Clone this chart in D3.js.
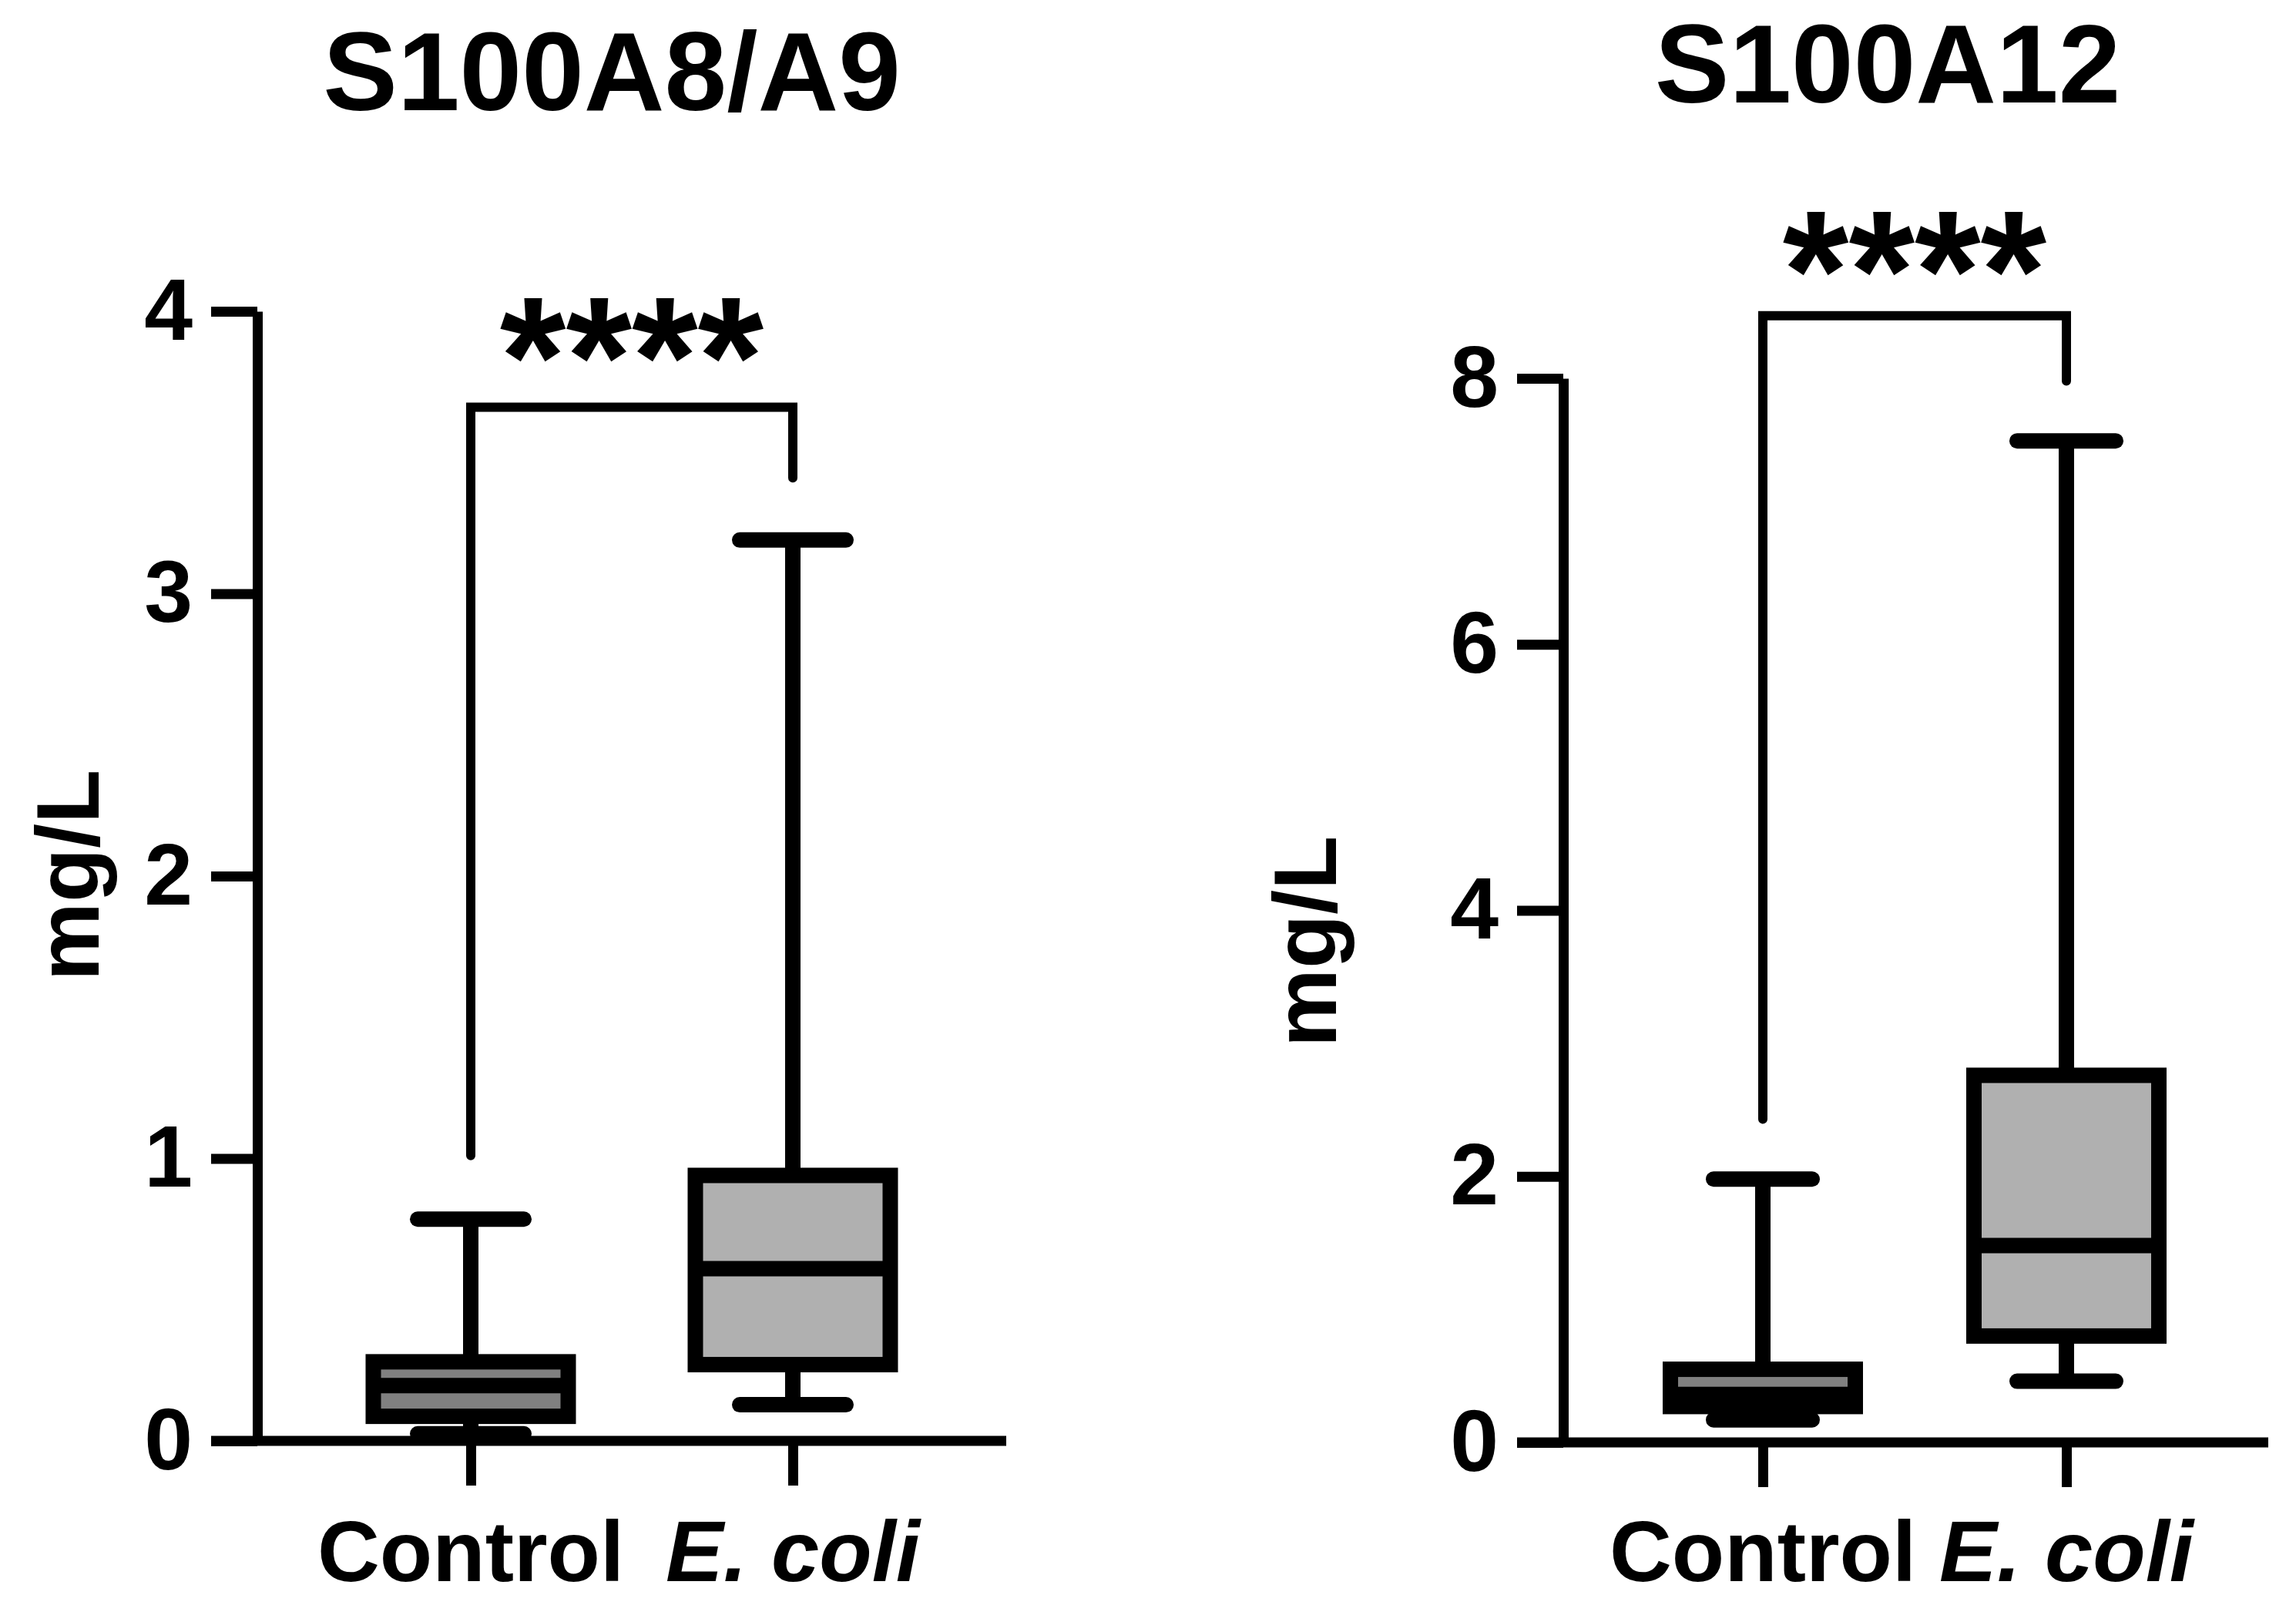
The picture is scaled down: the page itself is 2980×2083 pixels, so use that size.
<!DOCTYPE html>
<html><head><meta charset="utf-8">
<script src="https://cdn.jsdelivr.net/npm/d3@7"></script>
<style>body{margin:0;background:#fff}text{font-family:"Liberation Sans",Arial,sans-serif;font-weight:bold}</style>
</head><body>
<svg id="c" width="2980" height="2083"></svg>
<script>
const categories = ["Control", "E. coli"];
const titles = ["S100A8/A9", "S100A12"];
// [min, q1, median, q3, max] per category
const a8a9Stats = [[0.025, 0.087, 0.196, 0.28, 0.785], [0.128, 0.27, 0.61, 0.94, 3.19]];
const a12Stats = [[0.17, 0.27, 0.36, 0.55, 1.98], [0.46, 0.80, 1.48, 2.76, 7.53]];
const a8a9Ticks = [0, 1, 2, 3, 4];
const a12Ticks = [0, 2, 4, 6, 8];
// bracket: [top, leftLegBottom, rightLegBottom]
const a8a9Bracket = [3.66, 1.01, 3.41];
const a12Bracket = [8.47, 2.43, 7.98];
const sig = "****";
const boxFills = ["#808080", "#b0b0b0"];

const svg = d3.select("#c");
const panels = [
  {title: titles[0], stats: a8a9Stats, ticks: a8a9Ticks, br: a8a9Bracket, ax: 334, xEnd: 1306, y0: 1870, yTop: 404, cx: [611, 1029], titleX: 794, titleY: 143, starY: 539, labX: 88, labY: 1136, boxW: 253, capW: 138},
  {title: titles[1], stats: a12Stats, ticks: a12Ticks, br: a12Bracket, ax: 2029, xEnd: 2944, y0: 1872, yTop: 491, cx: [2288, 2682], titleX: 2450, titleY: 133, starY: 427, labX: 1694, labY: 1222, boxW: 240, capW: 128}
];

panels.forEach(p => {
  const g = svg.append("g");
  const y = d3.scaleLinear().domain([0, d3.max(p.ticks)]).range([p.y0, p.yTop]);
  const x = d3.scalePoint().domain(categories).range(p.cx);

  g.append("text").attr("x", p.titleX).attr("y", p.titleY).attr("text-anchor", "middle")
    .attr("font-size", 145).text(p.title);

  // y axis
  const ya = g.append("g").attr("transform", `translate(${p.ax},0)`)
    .call(d3.axisLeft(y).tickValues(p.ticks).tickSize(60).tickSizeOuter(0).tickPadding(24).tickFormat(d3.format("d")));
  ya.selectAll("path,line").attr("stroke", "#000").attr("stroke-width", 13);
  ya.selectAll("text").attr("font-size", 113).attr("fill", "#000").attr("font-family", '"Liberation Sans",Arial,sans-serif');

  // x axis
  g.append("line").attr("x1", p.ax - 60).attr("x2", p.xEnd).attr("y1", y(0)).attr("y2", y(0))
    .attr("stroke", "#000").attr("stroke-width", 13);
  const xa = g.append("g").attr("transform", `translate(0,${y(0)})`)
    .call(d3.axisBottom(x).tickSize(58).tickSizeOuter(0).tickFormat(""));
  xa.select("path").remove();
  xa.selectAll("line").attr("stroke", "#000").attr("stroke-width", 13);
  categories.forEach((c, i) => {
    const t = g.append("text").attr("x", x(c)).attr("y", 2052).attr("text-anchor", "middle").attr("font-size", 112).text(c);
    if (i === 1) t.attr("font-style", "italic");
  });

  // y label
  g.append("text").attr("transform", `translate(${p.labX + 40},${p.labY}) rotate(-90)`)
    .attr("text-anchor", "middle").attr("font-size", 115).text("mg/L");

  // boxes
  p.stats.forEach((s, i) => {
    const cx = x(categories[i]);
    const [mn, q1, md, q3, mx] = s;
    const sw = 20;
    g.append("line").attr("x1", cx).attr("x2", cx).attr("y1", y(q3)).attr("y2", y(mx)).attr("stroke", "#000").attr("stroke-width", sw);
    g.append("line").attr("x1", cx).attr("x2", cx).attr("y1", y(q1)).attr("y2", y(mn)).attr("stroke", "#000").attr("stroke-width", sw);
    [mn, mx].forEach(v => g.append("line").attr("x1", cx - p.capW / 2).attr("x2", cx + p.capW / 2)
      .attr("y1", y(v)).attr("y2", y(v)).attr("stroke", "#000").attr("stroke-width", sw).attr("stroke-linecap", "round"));
    g.append("rect").attr("x", cx - p.boxW / 2).attr("width", p.boxW).attr("y", y(q3)).attr("height", y(q1) - y(q3))
      .attr("fill", boxFills[i]).attr("stroke", "#000").attr("stroke-width", sw);
    g.append("line").attr("x1", cx - p.boxW / 2).attr("x2", cx + p.boxW / 2).attr("y1", y(md)).attr("y2", y(md))
      .attr("stroke", "#000").attr("stroke-width", sw);
  });

  // bracket
  const [bt, bl, brr] = p.br;
  g.append("path").attr("d", `M${x(categories[0])},${y(bl)}V${y(bt)}H${x(categories[1])}V${y(brr)}`)
    .attr("fill", "none").attr("stroke", "#000").attr("stroke-width", 12).attr("stroke-linecap", "round");
  g.append("text").attr("x", (p.cx[0] + p.cx[1]) / 2).attr("y", p.starY).attr("text-anchor", "middle")
    .attr("font-size", 220).text(sig);
});
</script>
</body></html>
